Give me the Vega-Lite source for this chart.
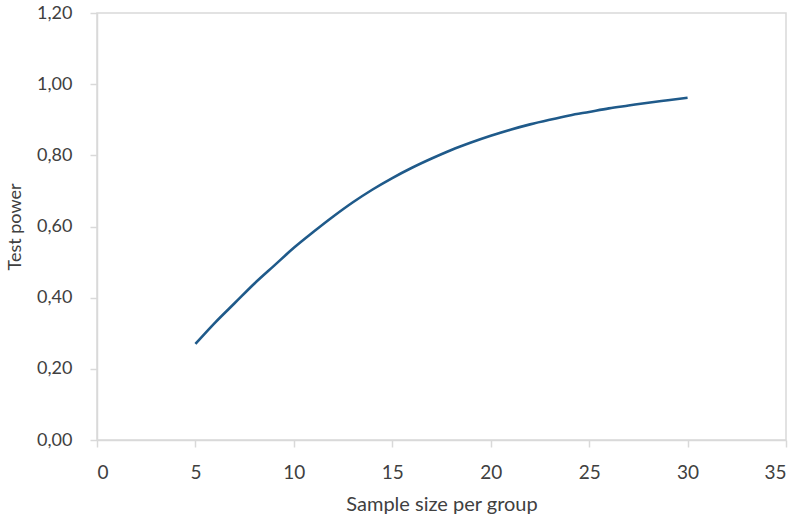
{
  "$schema": "https://vega.github.io/schema/vega-lite/v6.json",
  "width": 689,
  "height": 427,
  "autosize": "none",
  "padding": {"left": 97, "top": 13, "right": 14, "bottom": 79},
  "background": "white",
  "config": {
    "view": {"stroke": "#d9d9d9", "strokeWidth": 1.5},
    "axis": {
      "labelFont": "Lato",
      "titleFont": "Lato",
      "labelFontSize": 18,
      "titleFontSize": 18,
      "labelColor": "#404040",
      "titleColor": "#404040",
      "titleFontWeight": "normal",
      "domainColor": "#d9d9d9",
      "domainWidth": 1.5,
      "tickColor": "#d9d9d9",
      "tickWidth": 1.5,
      "tickSize": 7,
      "grid": false
    }
  },
  "data": {
    "values": [
      {"n": 5, "power": 0.27},
      {"n": 6, "power": 0.33},
      {"n": 7, "power": 0.385},
      {"n": 8, "power": 0.44},
      {"n": 9, "power": 0.49},
      {"n": 10, "power": 0.54},
      {"n": 11, "power": 0.585},
      {"n": 12, "power": 0.628},
      {"n": 13, "power": 0.668},
      {"n": 14, "power": 0.704},
      {"n": 15, "power": 0.736},
      {"n": 16, "power": 0.765},
      {"n": 17, "power": 0.791},
      {"n": 18, "power": 0.815},
      {"n": 19, "power": 0.836},
      {"n": 20, "power": 0.855},
      {"n": 21, "power": 0.872},
      {"n": 22, "power": 0.887},
      {"n": 23, "power": 0.9},
      {"n": 24, "power": 0.912},
      {"n": 25, "power": 0.922},
      {"n": 26, "power": 0.932},
      {"n": 27, "power": 0.94},
      {"n": 28, "power": 0.948},
      {"n": 29, "power": 0.955},
      {"n": 30, "power": 0.962}
    ]
  },
  "mark": {"type": "line", "color": "#1f5a8a", "strokeWidth": 2.6, "interpolate": "monotone"},
  "encoding": {
    "x": {
      "field": "n",
      "type": "quantitative",
      "scale": {"domain": [0, 35], "nice": false},
      "axis": {"values": [0, 5, 10, 15, 20, 25, 30, 35], "title": "Sample size per group", "labelFontSize": 19, "labelPadding": 16, "titleFontSize": 20, "titlePadding": 12}
    },
    "y": {
      "field": "power",
      "type": "quantitative",
      "scale": {"domain": [0, 1.2], "nice": false},
      "axis": {
        "values": [0, 0.2, 0.4, 0.6, 0.8, 1.0, 1.2],
        "labelExpr": "replace(format(datum.value, '.2f'), '.', ',')",
        "title": "Test power",
        "labelPadding": 18,
        "titlePadding": 12
      }
    }
  }
}
